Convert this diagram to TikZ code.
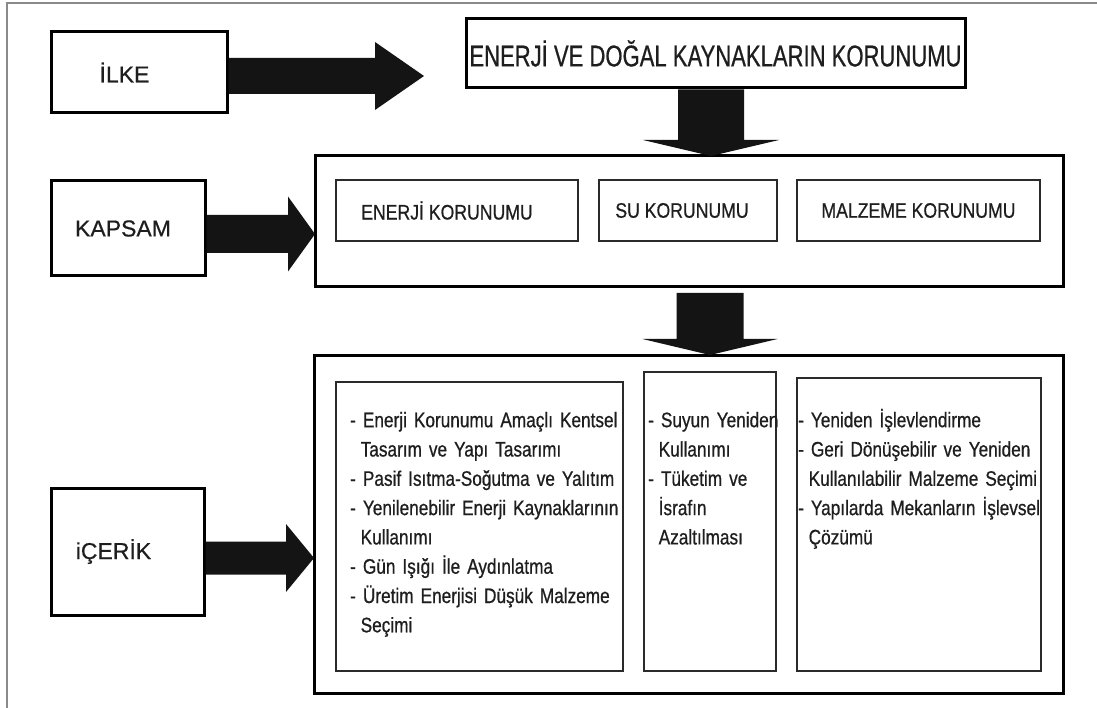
\documentclass[tikz,border=0pt]{standalone}
\usepackage{fontspec}
\setmainfont{Liberation Sans}[FakeBold=0.5]
\newfontfamily\narrowfont{Liberation Sans}[FakeStretch=0.82, FakeBold=0.7]
\newfontfamily\titlefont{Liberation Sans}[FakeStretch=0.735, FakeBold=0.6]
\newfontfamily\subfont{Liberation Sans}[FakeStretch=0.84, FakeBold=0.6]
\usetikzlibrary{calc}
\definecolor{textcol}{HTML}{1E1E1E}
\definecolor{thinline}{HTML}{2A2A2A}
\definecolor{framegray}{HTML}{8A8A8A}
\newcommand{\HArrow}[5]{%
  \fill[blockarrow] let \p1=(#1), \p2=(#2) in
    (\x1,\y2-#3) -- (\x2-#5,\y2-#3) -- (\x2-#5,\y2-#4) -- (\x2,\y2)
    -- (\x2-#5,\y2+#4) -- (\x2-#5,\y2+#3) -- (\x1,\y2+#3) -- cycle;}
\newcommand{\VArrow}[5]{%
  \fill[blockarrow] let \p1=(#1), \p2=(#2) in
    (\x2-#3,\y1) -- (\x2-#3,\y2+#5) -- (\x2-#4,\y2+#5) -- (\x2,\y2)
    -- (\x2+#4,\y2+#5) -- (\x2+#3,\y2+#5) -- (\x2+#3,\y1) -- cycle;}
\tikzset{
  labelbox/.style={draw=black, line width=3pt, rectangle, inner sep=0pt,
    text=textcol, font=\fontsize{23}{27}\selectfont},
  bigframe/.style={draw=black, line width=3pt, rectangle, inner sep=0pt},
  titlebox/.style={draw=black, line width=3pt, rectangle, inner sep=0pt,
    text=textcol, font=\titlefont\fontsize{30}{34}\selectfont},
  subbox/.style={draw=thinline, line width=1.5pt, rectangle, inner sep=0pt,
    text=textcol, font=\subfont\fontsize{21}{25}\selectfont},
  listbox/.style={draw=thinline, line width=1.5pt, rectangle, inner sep=0pt},
  listtext/.style={anchor=north west, inner sep=0pt, align=left, text width=300pt,
    text=textcol, font=\narrowfont\fontsize{21}{29.3}\selectfont},
  blockarrow/.style={fill=black!92}
}
\newcommand{\ind}{\hspace*{10.5pt}}
\begin{document}
\begin{tikzpicture}[x=1pt,y=-1pt]
\useasboundingbox (0,0) rectangle (1097,708);
\fill[white] (0,0) rectangle (1097,708);
\draw[framegray, line width=1.5pt] (7,708) -- (7,3) -- (1097,3);

% left labels
\node[labelbox, minimum width=176pt, minimum height=81pt] (ilke) at (139,72.5) {\hspace*{-29pt}İLKE};
\node[labelbox, minimum width=154pt, minimum height=95pt] (kapsam) at (128,228.5) {\hspace*{-10pt}KAPSAM};
\node[labelbox, minimum width=153pt, minimum height=127pt] (icerik) at (127.5,551.5) {\hspace*{-28pt}iÇERİK};

% principle
\node[titlebox, minimum width=499pt, minimum height=69pt] (enerji) at (715.5,53.5) {ENERJİ VE DOĞAL KAYNAKLARIN KORUNUMU};

% scope
\node[bigframe, minimum width=748pt, minimum height=131pt] (kframe) at (689,221.5) {};
\node[subbox, minimum width=242pt, minimum height=61pt] (ek) at (457,210.5) {\hspace*{-20pt}ENERJİ KORUNUMU};
\node[subbox, minimum width=178pt, minimum height=61pt] (su) at (688,210.5) {\hspace*{-12pt}SU KORUNUMU};
\node[subbox, minimum width=243pt, minimum height=61pt] (mk) at (918.5,210.5) {MALZEME KORUNUMU};

% content
\node[bigframe, minimum width=749pt, minimum height=338pt] (iframe) at (688.5,524) {};
\node[listbox, minimum width=287pt, minimum height=289pt] (b1) at (479.5,526.5) {};
\node[listbox, minimum width=132pt, minimum height=299pt] (b2) at (710,521.5) {};
\node[listbox, minimum width=244pt, minimum height=293pt] (b3) at (919,524.5) {};

\node[listtext] (t1) at (350,405) {\rule{0pt}{22pt}- Enerji Korunumu Amaçlı Kentsel\\
\ind Tasarım ve Yapı Tasarımı\\
- Pasif Isıtma-Soğutma ve Yalıtım\\
- Yenilenebilir Enerji Kaynaklarının\\
\ind Kullanımı\\
- Gün Işığı İle Aydınlatma\\
- Üretim Enerjisi Düşük Malzeme\\
\ind Seçimi};
\node[listtext] (t2) at (648,405) {\rule{0pt}{22pt}- Suyun Yeniden\\
\ind Kullanımı\\
- Tüketim ve\\
\ind İsrafın\\
\ind Azaltılması};
\node[listtext] (t3) at (798,405) {\rule{0pt}{22pt}- Yeniden İşlevlendirme\\
- Geri Dönüşebilir ve Yeniden\\
\ind Kullanılabilir Malzeme Seçimi\\
- Yapılarda Mekanların İşlevsel\\
\ind Çözümü};

% arrows
\coordinate (a1tip) at (424,76);
\HArrow{ilke.east |- a1tip}{a1tip}{18pt}{34pt}{49pt}
\coordinate (a2tip) at (711,156);
\VArrow{a2tip |- enerji.south}{a2tip}{33pt}{68pt}{16pt}
\coordinate (a3tip) at (315,234);
\HArrow{kapsam.east |- a3tip}{a3tip}{19pt}{37.5pt}{27pt}
\coordinate (a4tip) at (710,355);
\coordinate (a4top) at (710,293);
\VArrow{a4top}{a4tip}{33.5pt}{67.5pt}{16pt}
\coordinate (a5tip) at (314,558);
\HArrow{icerik.east |- a5tip}{a5tip}{16.5pt}{34pt}{28pt}
\end{tikzpicture}
\end{document}
